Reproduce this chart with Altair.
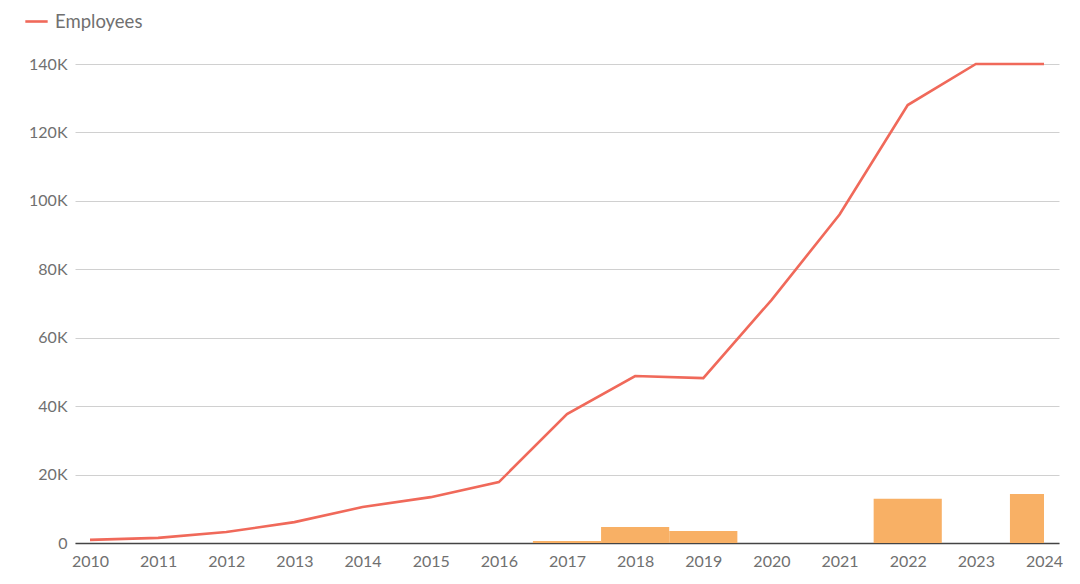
import altair as alt
import pandas as pd

years = list(range(2010, 2025))
employees = [900, 1500, 3200, 6100, 10500, 13400, 17800, 37700, 48800, 48200,
             71000, 96000, 128000, 140000, 140000]

bar_years = [2017, 2018, 2019, 2022, 2024]
bar_values = [600, 4700, 3500, 12900, 14300]

line_df = pd.DataFrame({"year": years, "value": employees, "series": ["Employees"] * len(years)})
bar_df = pd.DataFrame({"year": bar_years, "value": bar_values})

FONT = "Lato"
LINE_COLOR = "#F0695A"
BAR_COLOR = "#F8B065"

x_scale = alt.Scale(domain=[2009.78, 2024.22], nice=False, zero=False)
y_scale = alt.Scale(domain=[0, 140000], nice=False)

bars = alt.Chart(bar_df).transform_calculate(
    x0="datum.year - 0.5",
    x1="min(datum.year + 0.5, 2024)"
).mark_rect(color=BAR_COLOR).encode(
    x=alt.X("x0:Q", scale=x_scale,
            axis=alt.Axis(values=years, format="d", title=None, grid=False,
                          ticks=False, domainColor="#444444", domainWidth=1.5,
                          labelFont=FONT, labelFontSize=16, labelColor="#707070",
                          labelPadding=10)),
    x2="x1:Q",
    y=alt.Y("value:Q", scale=y_scale,
            axis=alt.Axis(values=list(range(0, 140001, 20000)), title=None,
                          labelExpr="datum.value == 0 ? '0' : (datum.value/1000) + 'K'",
                          domain=False, ticks=False, gridColor="#d0d0d0",
                          labelFont=FONT, labelFontSize=16, labelColor="#707070",
                          labelPadding=8)),
    y2=alt.value(479),
)

line = alt.Chart(line_df).mark_line(strokeWidth=2.6).encode(
    x=alt.X("year:Q", scale=x_scale),
    y=alt.Y("value:Q", scale=y_scale),
    color=alt.Color("series:N",
                    scale=alt.Scale(domain=["Employees"], range=[LINE_COLOR]),
                    legend=alt.Legend(title=None, orient="none", legendX=-51, legendY=-55,
                                      symbolType="stroke", symbolStrokeWidth=2.6,
                                      symbolSize=500, labelFont=FONT, labelFontSize=18.5,
                                      labelColor="#707070", labelOffset=6)),
)

chart = alt.layer(bars, line).properties(
    width=984, height=479,
    autosize=alt.AutoSizeParams(type="none"),
    padding={"left": 67, "top": 56, "right": 4, "bottom": 30},
).configure_view(stroke=None)

chart.save("out.html", embed_options={"renderer": "svg", "actions": False})
